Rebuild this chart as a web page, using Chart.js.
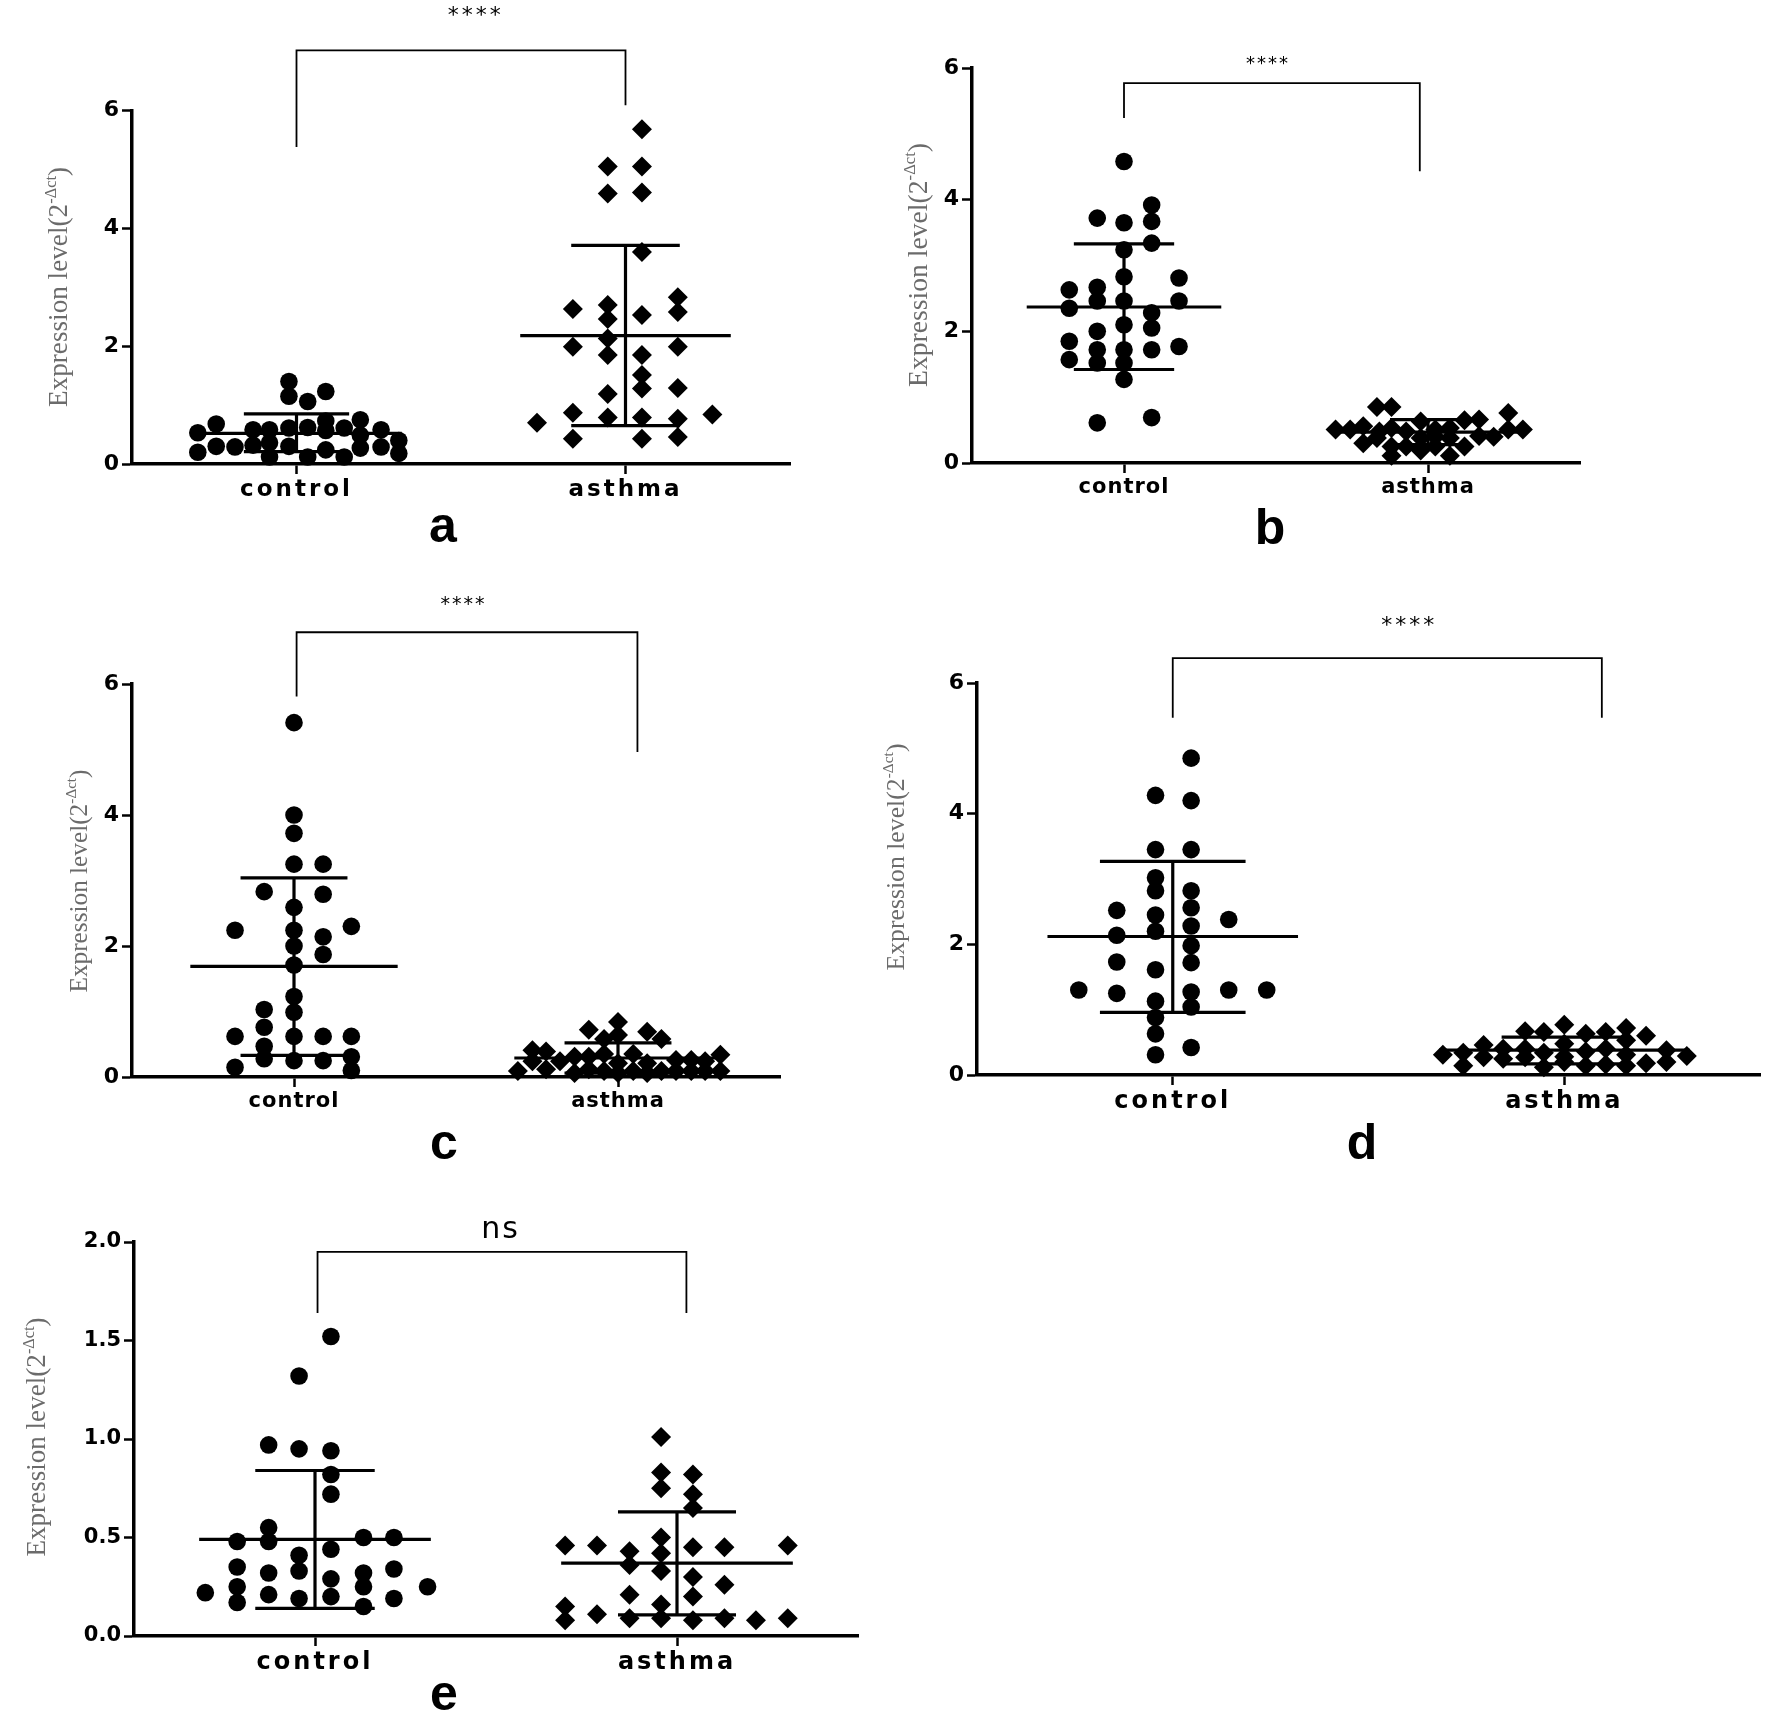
<!DOCTYPE html>
<html><head><meta charset="utf-8">
<script src="https://cdn.jsdelivr.net/npm/chart.js@4"></script>
<style>
html,body{margin:0;padding:0;background:#fff;}
body{width:1770px;height:1712px;position:relative;overflow:hidden;}
canvas{position:absolute;}
.letter{position:absolute;width:100px;text-align:center;font:bold 50px "Liberation Sans",Arial,sans-serif;line-height:50px;color:#000;}
</style></head><body>
<canvas id="ca" width="840" height="560" style="left:0px;top:0px"></canvas>
<canvas id="cb" width="910" height="560" style="left:860px;top:0px"></canvas>
<canvas id="cc" width="840" height="580" style="left:0px;top:580px"></canvas>
<canvas id="cd" width="910" height="580" style="left:860px;top:580px"></canvas>
<canvas id="ce" width="900" height="542" style="left:0px;top:1170px"></canvas>
<div class="letter" style="left:393px;top:500px">a</div>
<div class="letter" style="left:1220px;top:502px">b</div>
<div class="letter" style="left:394px;top:1117px">c</div>
<div class="letter" style="left:1312px;top:1117px">d</div>
<div class="letter" style="left:394px;top:1668px">e</div>
<script>
// ---------- data ----------
const categories = ['control', 'asthma'];
const yTicks6 = [0, 2, 4, 6];
const yLabels6 = ['0', '2', '4', '6'];
const yTicksE = [0, 0.5, 1, 1.5, 2];
const yLabelsE = ['0.0', '0.5', '1.0', '1.5', '2.0'];
const yTitleMain = 'Expression level(2';
const yTitleSup = '-\u0394ct';
const yTitleEnd = ')';

// panel a
const aCtrlX = [-0.023,-0.023,0.034,0.089,0.089,0.194,-0.244,-0.30,-0.132,-0.082,-0.023,0.034,0.089,0.145,0.257,0.194,0.311,-0.30,-0.244,-0.187,-0.132,-0.082,-0.023,0.089,0.194,0.257,0.311,-0.082,0.034,0.145];
const aCtrlY = [1.40,1.15,1.06,1.23,0.73,0.75,0.68,0.53,0.58,0.58,0.61,0.62,0.57,0.61,0.58,0.49,0.40,0.20,0.30,0.29,0.32,0.36,0.30,0.24,0.27,0.29,0.18,0.12,0.12,0.12];
const aAsthX = [0.050,-0.054,0.050,-0.054,0.050,0.050,-0.160,-0.054,-0.054,0.050,0.159,0.159,-0.160,-0.054,-0.054,0.050,0.159,0.050,0.050,0.159,-0.054,-0.269,-0.160,-0.054,0.050,0.159,0.264,-0.160,0.050,0.159];
const aAsthY = [5.68,5.05,5.05,4.59,4.61,3.60,2.63,2.70,2.46,2.53,2.83,2.58,1.99,2.13,1.85,1.85,1.99,1.51,1.28,1.29,1.19,0.70,0.87,0.79,0.79,0.77,0.84,0.43,0.43,0.46];
const aCtrlStat = [0.52, 0.21, 0.85];   // mean, mean-SD, mean+SD
const aAsthStat = [2.18, 0.65, 3.71];
const aBracket = [1, 5.38, 7.02, 2, 6.09];   // left x, left end, top, right x, right end
const aSig = '****', aSigX = 1.54, aSigY = 7.6;

// panel b
const bCtrlX = [0,0.091,-0.088,0,0.091,0.091,0,0,0.181,-0.18,-0.088,-0.18,-0.088,0,0.181,0.091,0,-0.088,0.091,-0.18,-0.088,0,0.091,0.181,-0.18,-0.088,0,0,-0.088,0.091];
const bCtrlY = [4.58,3.92,3.72,3.65,3.67,3.34,3.24,2.83,2.81,2.63,2.67,2.35,2.46,2.46,2.46,2.28,2.10,2.0,2.05,1.85,1.72,1.72,1.72,1.77,1.57,1.52,1.52,1.27,0.61,0.69];
const bAsthX = [-0.168,-0.12,0.264,-0.304,-0.256,-0.213,-0.16,-0.12,-0.072,-0.024,0.024,0.072,0.12,0.168,0.216,0.264,0.312,-0.213,-0.168,-0.12,-0.072,-0.024,0.024,0.072,0.12,0.168,-0.12,0.072,0.024,-0.024];
const bAsthY = [0.85,0.85,0.76,0.51,0.51,0.56,0.48,0.53,0.48,0.63,0.51,0.53,0.65,0.66,0.40,0.51,0.51,0.30,0.38,0.25,0.25,0.19,0.25,0.38,0.25,0.41,0.11,0.11,0.40,0.38];
const bCtrlStat = [2.37, 1.42, 3.33];
const bAsthStat = [0.47, 0.28, 0.66];
const bBracket = [1, 5.24, 5.77, 1.973, 4.43];
const bSig = '****', bSigX = 1.47, bSigY = 6.05;

// panel c
const cCtrlX = [0,0,0,0,0.09,-0.092,0.09,0,-0.182,0,0.177,0.09,0,0.09,0,0,-0.092,0,-0.092,-0.182,0,0.09,0.177,-0.092,-0.092,0,0.09,0.177,-0.182,0.177];
const cCtrlY = [5.41,4.0,3.72,3.25,3.25,2.83,2.79,2.59,2.24,2.24,2.30,2.14,2.0,1.87,1.71,1.23,1.03,0.99,0.76,0.62,0.62,0.62,0.62,0.47,0.28,0.25,0.25,0.31,0.15,0.10];
const cAsthX = [0,-0.09,0.09,-0.043,0,0.134,-0.264,-0.222,0.047,-0.134,-0.09,-0.043,0.316,-0.264,-0.179,0,0.09,0.179,0.226,0.269,-0.309,-0.222,-0.134,-0.09,-0.043,0,0.047,0.09,0.134,0.179,0.226,0.269,0.316];
const cAsthY = [0.84,0.72,0.69,0.58,0.64,0.58,0.41,0.39,0.35,0.31,0.31,0.35,0.34,0.24,0.24,0.21,0.21,0.26,0.26,0.24,0.09,0.12,0.06,0.12,0.09,0.06,0.09,0.06,0.09,0.09,0.09,0.09,0.09];
const cCtrlStat = [1.69, 0.33, 3.04];
const cAsthStat = [0.29, 0.06, 0.52];
const cBracket = [1.008, 5.81, 6.79, 2.06, 4.96];
const cSig = '****', cSigX = 1.52, cSigY = 7.21;

// panel d
const dCtrlX = [0.047,-0.044,0.047,-0.044,0.047,-0.044,-0.044,0.047,-0.143,0.047,-0.044,0.143,0.047,-0.044,-0.143,0.047,-0.143,0.047,-0.044,-0.24,-0.143,0.047,0.143,0.24,-0.044,0.047,-0.044,-0.044,0.047,-0.044];
const dCtrlY = [4.85,4.28,4.20,3.45,3.45,3.02,2.82,2.82,2.52,2.56,2.45,2.38,2.28,2.20,2.14,1.98,1.73,1.72,1.61,1.30,1.25,1.27,1.30,1.30,1.13,1.04,0.88,0.63,0.42,0.31];
const dAsthX = [0,-0.10,-0.052,0.055,0.106,0.158,0.209,-0.206,0,-0.31,-0.258,-0.156,-0.10,0.106,0.158,0.261,-0.206,-0.156,-0.10,-0.052,0,0.055,0.158,0.313,-0.258,-0.052,0,0.055,0.106,0.158,0.209,0.261];
const dAsthY = [0.77,0.67,0.66,0.63,0.66,0.72,0.60,0.46,0.48,0.31,0.34,0.40,0.40,0.40,0.53,0.38,0.27,0.25,0.27,0.34,0.28,0.36,0.31,0.29,0.14,0.12,0.20,0.14,0.16,0.14,0.18,0.20];
const dCtrlStat = [2.12, 0.96, 3.27];
const dAsthStat = [0.38, 0.17, 0.58];
const dBracket = [1, 5.47, 6.38, 2.096, 5.47];
const dSig = '****', dSigX = 1.60, dSigY = 6.87;

// panel e
const eCtrlX = [0.044,-0.044,-0.128,-0.044,0.044,0.044,0.044,-0.128,-0.215,-0.128,0.134,0.218,0.044,-0.044,-0.215,0.218,-0.128,-0.044,0.134,0.044,-0.215,0.134,0.311,-0.303,-0.128,-0.044,0.044,0.218,-0.215,0.134];
const eCtrlY = [1.52,1.32,0.97,0.95,0.94,0.82,0.72,0.55,0.48,0.48,0.50,0.50,0.44,0.41,0.35,0.34,0.32,0.33,0.32,0.29,0.25,0.25,0.25,0.22,0.21,0.19,0.20,0.19,0.17,0.15];
const eAsthX = [-0.044,-0.044,0.044,-0.044,0.044,0.044,-0.044,-0.309,-0.221,0.044,0.131,0.306,-0.131,-0.044,-0.131,-0.044,0.044,0.131,-0.131,0.044,-0.044,-0.309,-0.221,-0.131,-0.044,0.131,0.306,-0.309,0.044,0.218];
const eAsthY = [1.01,0.83,0.82,0.75,0.72,0.65,0.50,0.46,0.46,0.45,0.45,0.46,0.43,0.42,0.36,0.33,0.30,0.26,0.21,0.20,0.16,0.15,0.11,0.09,0.09,0.09,0.09,0.08,0.08,0.08];
const eCtrlStat = [0.49, 0.14, 0.84];
const eAsthStat = [0.37, 0.107, 0.63];
const eBracket = [1.007, 1.64, 1.95, 2.026, 1.64];
const eSig = 'ns', eSigX = 1.51, eSigY = 2.06;

// ---------- drawing ----------
function seg(pts, w) {
  return { type: 'line', data: pts.map(p => ({ x: p[0], y: p[1] })), borderColor: '#000',
    borderWidth: w, pointRadius: 0, fill: false, tension: 0, clip: false, order: 0 };
}

function makePanel(p) {
  const cv = document.getElementById(p.id);
  const W = cv.width, H = cv.height;
  const ds = [];
  ds.push({ label: categories[0], data: p.ctrlX.map((dx, i) => ({ x: 1 + dx, y: p.ctrlY[i] })),
    pointStyle: 'circle', pointRadius: 8.8, backgroundColor: '#000', borderColor: '#000', borderWidth: 0, clip: false });
  ds.push({ label: categories[1], data: p.asthX.map((dx, i) => ({ x: 2 + dx, y: p.asthY[i] })),
    pointStyle: 'rectRot', pointRadius: 10, backgroundColor: '#000', borderColor: '#000', borderWidth: 0, clip: false });
  [[1, p.ctrlStat, p.caps[0]], [2, p.asthStat, p.caps[1]]].forEach(([xc, s, cw]) => {
    const mw = 0.32;
    ds.push(seg([[xc - mw, s[0]], [xc + mw, s[0]]], 3.2));
    ds.push(seg([[xc, s[1]], [xc, s[2]]], 3.2));
    ds.push(seg([[xc - cw, s[2]], [xc + cw, s[2]]], 3.2));
    ds.push(seg([[xc - cw, s[1]], [xc + cw, s[1]]], 3.2));
  });
  const b = p.bracket;
  ds.push(seg([[b[0], b[1]], [b[0], b[2]], [b[3], b[2]], [b[3], b[4]]], 1.8));

  const deco = {
    id: 'deco',
    beforeDraw(chart) {
      const ctx = chart.ctx;
      if (!ctx._spaced) {
        const f = ctx.fillText;
        ctx.fillText = function (t) {
          if (categories.indexOf(t) >= 0) {
            const old = this.letterSpacing;
            this.letterSpacing = p.spacing + 'px';
            f.apply(this, arguments);
            this.letterSpacing = old;
          } else {
            f.apply(this, arguments);
          }
        };
        ctx._spaced = true;
      }
    },
    afterDraw(chart) {
      const ctx = chart.ctx, xs = chart.scales.x, ys = chart.scales.y;
      ctx.save();
      ctx.letterSpacing = p.sigSpacing + 'px';
      ctx.fillStyle = '#000';
      ctx.font = p.sigFont;
      ctx.textAlign = 'center';
      ctx.textBaseline = 'middle';
      ctx.fillText(p.sig, xs.getPixelForValue(p.sigX) + p.sigSpacing / 2, ys.getPixelForValue(p.sigY));
      // y-axis title with superscript
      ctx.letterSpacing = '0px';
      const fam = '"Liberation Serif","Times New Roman",serif';
      ctx.font = '100px ' + fam;
      const m1 = ctx.measureText(yTitleMain).width, m3 = ctx.measureText(yTitleEnd).width;
      ctx.font = '60px ' + fam;
      const m2 = ctx.measureText(yTitleSup).width;
      const size = 100 * p.titleLen / (m1 + m2 + m3);
      const cx = p.titleBase - p.left, cy = p.titleMid - p.top;
      ctx.translate(cx, cy);
      ctx.rotate(-Math.PI / 2);
      ctx.fillStyle = '#6b6b6b';
      ctx.textAlign = 'left';
      ctx.textBaseline = 'alphabetic';
      let x0 = -p.titleLen / 2;
      ctx.font = size + 'px ' + fam;
      ctx.fillText(yTitleMain, x0, 0); x0 += m1 * size / 100;
      ctx.font = (size * 0.6) + 'px ' + fam;
      ctx.fillText(yTitleSup, x0, -size * 0.42); x0 += m2 * size / 100;
      ctx.font = size + 'px ' + fam;
      ctx.fillText(yTitleEnd, x0, 0);
      ctx.restore();
    }
  };

  const axisCommon = {
    grid: { display: true, drawOnChartArea: false, drawTicks: true, tickLength: 10, tickWidth: 2.5, tickColor: '#000' },
    border: { display: true, color: '#000', width: 3.5 }
  };

  new Chart(cv, {
    type: 'scatter',
    data: { datasets: ds },
    options: {
      responsive: false, animation: false, events: [],
      layout: { padding: { top: p.T - p.top, right: (p.left + W) - p.R, left: 0, bottom: 0 } },
      plugins: { legend: { display: false }, tooltip: { enabled: false } },
      scales: {
        x: Object.assign({
          type: 'linear', min: 0.5, max: 2.5,
          afterFit(s) { s.height = (p.top + H) - p.B; },
          afterBuildTicks(s) { s.ticks = [1, 2].map(v => ({ value: v })); },
          ticks: { autoSkip: false, maxRotation: 0, padding: 2, color: '#000',
            font: { family: 'DejaVu Sans', weight: 'bold', size: p.xFont },
            callback: (v, i) => categories[i] }
        }, axisCommon),
        y: Object.assign({
          type: 'linear', min: 0, max: p.yMax,
          afterFit(s) { s.width = p.L - p.left; },
          afterBuildTicks(s) { s.ticks = p.yTicks.map(v => ({ value: v })); },
          ticks: { autoSkip: false, padding: 3, color: '#000',
            font: { family: 'DejaVu Sans', weight: 'bold', size: p.yFont },
            callback: (v, i) => p.yLabels[i] }
        }, axisCommon)
      }
    },
    plugins: [deco]
  });
}

makePanel({ id: 'ca', left: 0, top: 0, L: 132, R: 790, T: 110.5, B: 464, yMax: 6, yTicks: yTicks6, yLabels: yLabels6,
  ctrlX: aCtrlX, ctrlY: aCtrlY, asthX: aAsthX, asthY: aAsthY, ctrlStat: aCtrlStat, asthStat: aAsthStat,
  caps: [0.16, 0.165], bracket: aBracket, sig: aSig, sigX: aSigX, sigY: aSigY, sigFont: '22px "DejaVu Sans"', sigSpacing: 3,
  xFont: 23, yFont: 22, spacing: 3, titleBase: 67, titleMid: 287, titleLen: 240 });
makePanel({ id: 'cb', left: 860, top: 0, L: 972, R: 1580, T: 68, B: 463, yMax: 6, yTicks: yTicks6, yLabels: yLabels6,
  ctrlX: bCtrlX, ctrlY: bCtrlY, asthX: bAsthX, asthY: bAsthY, ctrlStat: bCtrlStat, asthStat: bAsthStat,
  caps: [0.165, 0.125], bracket: bBracket, sig: bSig, sigX: bSigX, sigY: bSigY, sigFont: '18px "DejaVu Sans"', sigSpacing: 2,
  xFont: 21, yFont: 22, spacing: 1, titleBase: 927, titleMid: 265, titleLen: 244 });
makePanel({ id: 'cc', left: 0, top: 580, L: 132, R: 780, T: 684, B: 1077, yMax: 6, yTicks: yTicks6, yLabels: yLabels6,
  ctrlX: cCtrlX, ctrlY: cCtrlY, asthX: cAsthX, asthY: cAsthY, ctrlStat: cCtrlStat, asthStat: cAsthStat,
  caps: [0.165, 0.165], bracket: cBracket, sig: cSig, sigX: cSigX, sigY: cSigY, sigFont: '19px "DejaVu Sans"', sigSpacing: 2,
  xFont: 21, yFont: 22, spacing: 1, titleBase: 87, titleMid: 881, titleLen: 223 });
makePanel({ id: 'cd', left: 860, top: 580, L: 977, R: 1768, T: 683, B: 1075, yMax: 6, yTicks: yTicks6, yLabels: yLabels6,
  ctrlX: dCtrlX, ctrlY: dCtrlY, asthX: dAsthX, asthY: dAsthY, ctrlStat: dCtrlStat, asthStat: dAsthStat,
  caps: [0.186, 0.16], bracket: dBracket, sig: dSig, sigX: dSigX, sigY: dSigY, sigFont: '22px "DejaVu Sans"', sigSpacing: 3,
  xFont: 24, yFont: 22, spacing: 3, titleBase: 904, titleMid: 857, titleLen: 227 });
makePanel({ id: 'ce', left: 0, top: 1170, L: 134, R: 858, T: 1242, B: 1636, yMax: 2, yTicks: yTicksE, yLabels: yLabelsE,
  ctrlX: eCtrlX, ctrlY: eCtrlY, asthX: eAsthX, asthY: eAsthY, ctrlStat: eCtrlStat, asthStat: eAsthStat,
  caps: [0.165, 0.163], bracket: eBracket, sig: eSig, sigX: eSigX, sigY: eSigY, sigFont: '30px "DejaVu Sans"', sigSpacing: 2,
  xFont: 24, yFont: 21, spacing: 3, titleBase: 45, titleMid: 1437, titleLen: 239 });
</script>
</body></html>
